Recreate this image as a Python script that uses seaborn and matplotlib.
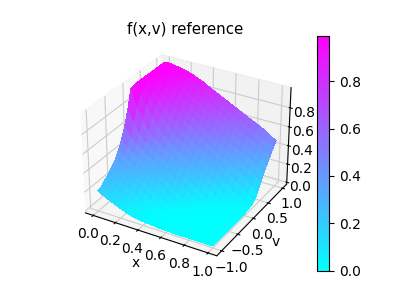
import numpy as np
import seaborn as sns
import matplotlib
matplotlib.use("Agg")
import matplotlib.pyplot as plt

# values, one list per v
x_vals = [0.0, 0.05, 0.1, 0.15, 0.2, 0.25, 0.3, 0.35, 0.4, 0.45, 0.5,
          0.55, 0.6, 0.65, 0.7, 0.75, 0.8, 0.85, 0.9, 0.95, 1.0]
v_vals = [-1.0, -0.9, -0.8, -0.7, -0.6, -0.5, -0.4, -0.3, -0.2, -0.1, 0.0,
          0.1, 0.2, 0.3, 0.4, 0.5, 0.6, 0.7, 0.8, 0.9, 1.0]
f_a = [.20, .165, .135, .11, .085, .06, .04, .03, .02, .015, .01, .005, .005, 0, 0, 0, 0, 0, 0, 0, 0]
f_b = [.21, .185, .155, .125, .095, .07, .05, .035, .025, .015, .01, .005, .005, 0, 0, 0, 0, 0, 0, 0, 0]
f_c = [.25, .22, .19, .155, .12, .085, .06, .04, .03, .02, .01, .005, 0, 0, 0, 0, 0, 0, 0, 0, 0]
f_d = [.28, .26, .23, .20, .17, .12, .07, .04, .025, .015, .01, .005, 0, 0, 0, 0, 0, 0, 0, 0, 0]
f_e = [.32, .29, .265, .24, .21, .18, .14, .085, .05, .03, .02, .01, .01, .005, 0, 0, 0, 0, 0, 0, 0]
f_f = [.37, .33, .30, .27, .245, .22, .18, .15, .10, .06, .035, .02, .015, .01, .005, 0, 0, 0, 0, 0, 0]
f_g = [.44, .39, .35, .31, .285, .26, .235, .20, .16, .11, .07, .04, .025, .015, .01, .005, 0, 0, 0, 0, 0]
f_h = [.53, .47, .41, .37, .33, .30, .27, .245, .21, .175, .12, .08, .045, .03, .015, .01, .005, .005, 0, 0, 0]
f_i = [.65, .56, .49, .43, .38, .35, .31, .285, .26, .225, .185, .135, .09, .05, .03, .02, .01, .005, .005, 0, 0]
f_j = [.80, .68, .58, .50, .45, .40, .36, .33, .30, .27, .24, .20, .16, .10, .06, .035, .02, .015, .01, .005, 0]
f_k = [.98, .82, .70, .60, .52, .47, .42, .38, .34, .31, .28, .25, .215, .175, .125, .07, .04, .025, .015, .01, .005]
f_l = [.985, .90, .80, .70, .62, .55, .49, .44, .40, .36, .32, .29, .26, .23, .19, .14, .09, .05, .03, .02, .01]
f_m = [.99, .94, .86, .78, .70, .63, .57, .51, .46, .42, .38, .34, .31, .28, .245, .205, .155, .10, .06, .035, .02]
f_n = [.99, .96, .90, .83, .76, .70, .64, .58, .53, .48, .44, .40, .36, .33, .30, .265, .225, .175, .12, .07, .04]
f_o = [.99, .97, .93, .87, .81, .76, .70, .65, .60, .55, .50, .46, .42, .39, .35, .32, .285, .245, .20, .14, .09]
f_p = [.99, .975, .95, .90, .85, .80, .75, .70, .65, .61, .56, .52, .48, .45, .41, .37, .34, .305, .265, .225, .17]
f_q = [.99, .98, .96, .93, .88, .84, .79, .75, .70, .66, .62, .58, .54, .50, .46, .43, .39, .36, .32, .285, .24]
f_r = [.99, .985, .97, .945, .91, .87, .83, .79, .75, .71, .67, .63, .59, .55, .52, .48, .45, .41, .38, .34, .30]
f_s = [.99, .985, .975, .955, .93, .90, .86, .83, .79, .75, .71, .68, .64, .60, .57, .54, .50, .47, .44, .40, .36]
f_t = [.99, .985, .98, .965, .945, .92, .89, .86, .82, .79, .76, .72, .69, .65, .62, .59, .56, .53, .49, .46, .42]
f_u = [.99, .99, .98, .97, .955, .935, .91, .885, .85, .82, .79, .76, .73, .70, .67, .64, .61, .58, .55, .51, .47]

sns.set_style("white")
plt.rcParams["font.family"] = ["DejaVu Sans"]
plt.rcParams["text.color"] = "black"
plt.rcParams["axes.labelcolor"] = "black"
plt.rcParams["xtick.color"] = "black"
plt.rcParams["ytick.color"] = "black"
plt.rcParams["axes.edgecolor"] = "black"
plt.rcParams["font.size"] = 10

X, V = np.meshgrid(x_vals, v_vals)
F = np.array([f_a, f_b, f_c, f_d, f_e, f_f, f_g, f_h, f_i, f_j, f_k,
              f_l, f_m, f_n, f_o, f_p, f_q, f_r, f_s, f_t, f_u])

fig = plt.figure(figsize=(4.05, 3.04), dpi=100)
ax = fig.add_subplot(111, projection="3d")
cmap = sns.color_palette("cool", as_cmap=True)
surf = ax.plot_surface(X, V, F, cmap=cmap, linewidth=0, antialiased=False,
                       vmin=0, vmax=0.99, rcount=50, ccount=50)
ax.set_title("f(x,v) reference", fontsize=10.8, y=1.062)
ax.set_xlabel("x", labelpad=-6, fontsize=10)
ax.set_ylabel("v", labelpad=-6, fontsize=10)
ax.set_xticks([0.0, 0.2, 0.4, 0.6, 0.8, 1.0])
ax.set_yticks([-1.0, -0.5, 0.0, 0.5, 1.0])
ax.set_zticks([0.0, 0.2, 0.4, 0.6, 0.8])
ax.tick_params(axis="both", pad=-2)
fig.colorbar(surf, ticks=[0.0, 0.2, 0.4, 0.6, 0.8])

plt.savefig("out.png", dpi=100)
